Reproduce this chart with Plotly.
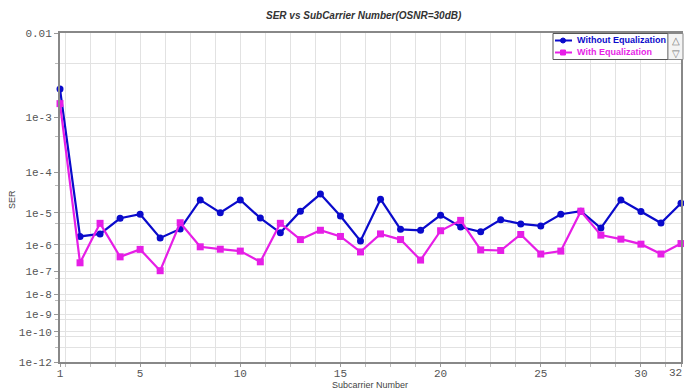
import math
import plotly.graph_objects as go

subcarriers = list(range(1, 33))
ser_without_eq = [2.5e-3, 1.9e-6, 2.3e-6, 6.9e-6, 9.0e-6, 1.7e-6, 3.3e-6, 2.2e-5,
                  1.0e-5, 2.2e-5, 7.0e-6, 2.5e-6, 1.1e-5, 3.1e-5, 8.0e-6, 1.35e-6,
                  2.3e-5, 3.2e-6, 3.0e-6, 8.5e-6, 3.8e-6, 2.7e-6, 6.3e-6, 4.7e-6,
                  4.1e-6, 9.0e-6, 1.1e-5, 3.5e-6, 2.2e-5, 1.07e-5, 5.0e-6, 1.8e-5]
ser_with_eq = [1.6e-3, 2.2e-7, 4.9e-6, 3.7e-7, 6.9e-7, 1.07e-7, 5.1e-6, 8.5e-7,
               7.0e-7, 6.0e-7, 2.4e-7, 4.9e-6, 1.5e-6, 3.0e-6, 1.9e-6, 5.6e-7,
               2.3e-6, 1.5e-6, 2.8e-7, 2.9e-6, 6.0e-6, 6.6e-7, 6.3e-7, 2.2e-6,
               4.7e-7, 6.0e-7, 1.1e-5, 2.1e-6, 1.55e-6, 1.05e-6, 4.7e-7, 1.1e-6]
series_names = ["Without Equalization", "With Equalization"]
y_tick_values = [1e-2, 1e-3, 1e-4, 1e-5, 1e-6, 1e-7, 1e-8, 1e-9, 1e-10, 1e-12]
y_tick_labels = ["0.01", "1e-3", "1e-4", "1e-5", "1e-6", "1e-7", "1e-8", "1e-9", "1e-10", "1e-12"]
y_minor_values = [5e-3, 5e-4, 5e-5, 5e-6, 5e-7, 5e-8, 5e-9, 5e-10, 5e-11, 1e-11]
x_tick_values = [1, 5, 10, 15, 20, 25, 30, 32]
x_tick_labels = ["1", "5", "10", "15", "20", "25", "30", ""]
x_last_label = "32"
x_minor_values = [1.25 * k for k in range(1, 26)]

W, H = 684, 390
ML, MR, MT, MB = 60, 3, 33, 28
PW, PH = W - ML - MR, H - MT - MB


def px(x):
    return (x - ML) / PW


def py(y):
    return 1 - (y - MT) / PH


def ser_scale(v):
    # BER-style axis: log of the exponent
    return -math.log(-math.log10(v) - 0.6)


blue = "#0a0acb"
magenta = "#e61ee6"
colors = [blue, magenta]
symbols = ["circle", "square"]

fig = go.Figure()
for name, vals, col, sym in zip(series_names, [ser_without_eq, ser_with_eq], colors, symbols):
    fig.add_trace(go.Scatter(
        x=subcarriers, y=[ser_scale(v) for v in vals],
        mode="lines+markers", name=name, showlegend=False,
        line=dict(color=col, width=2.2),
        marker=dict(symbol=sym, size=7, color=col),
        cliponaxis=False,
    ))

tickfont = dict(family="Liberation Mono, DejaVu Sans Mono, monospace", size=11, color="#555555")
sans = "Liberation Sans Narrow, Liberation Sans, Arial, sans-serif"

fig.update_layout(
    width=W, height=H,
    margin=dict(l=ML, r=MR, t=MT, b=MB),
    paper_bgcolor="white", plot_bgcolor="white",
    showlegend=False,
    xaxis=dict(
        range=[1, 32], tickmode="array", tickvals=x_tick_values,
        ticktext=x_tick_labels, tickfont=tickfont,
        showgrid=False, zeroline=False, automargin=False,
        ticklabeloverflow="allow", ticklabelstandoff=-3,
        showline=True, linecolor="#888888", linewidth=2, mirror=True,
        ticks="outside", ticklen=3, tickcolor="#999999",
        minor=dict(tickmode="array", tickvals=x_minor_values, showgrid=True,
                   gridcolor="#e2e2e2", gridwidth=1, ticks="outside",
                   ticklen=3, tickcolor="#bbbbbb"),
    ),
    yaxis=dict(
        range=[ser_scale(1e-12), ser_scale(1e-2)], tickmode="array",
        tickvals=[ser_scale(v) for v in y_tick_values], ticktext=y_tick_labels,
        tickfont=tickfont, showgrid=True, gridcolor="#e2e2e2", zeroline=False,
        automargin=False, ticklabeloverflow="allow",
        showline=True, linecolor="#888888", linewidth=2, mirror=True,
        ticks="outside", ticklen=4, tickcolor="#999999",
        minor=dict(tickmode="array", tickvals=[ser_scale(v) for v in y_minor_values],
                   showgrid=True, gridcolor="#e2e2e2", gridwidth=1,
                   ticks="outside", ticklen=3, tickcolor="#bbbbbb"),
    ),
)

# last x tick label, kept inside the page edge
fig.add_annotation(text=x_last_label, x=px(683.5), y=py(373), xref="paper", yref="paper",
                   showarrow=False, xanchor="right", yanchor="middle", font=tickfont)

# title and axis titles
fig.add_annotation(text="<b><i>SER vs SubCarrier Number(OSNR=30dB)</i></b>",
                   x=px(364), y=py(16), xref="paper", yref="paper", showarrow=False,
                   xanchor="center", yanchor="middle",
                   font=dict(family=sans, size=10, color="#333333"))
fig.add_annotation(text="Subcarrier Number", x=px(370), y=py(384.5), xref="paper", yref="paper",
                   showarrow=False, xanchor="center", yanchor="middle",
                   font=dict(family="Liberation Sans, Arial, sans-serif", size=9, color="#444444"))
fig.add_annotation(text="SER", x=px(12), y=py(200), xref="paper", yref="paper",
                   showarrow=False, xanchor="center", yanchor="middle", textangle=-90,
                   font=dict(family="Liberation Sans, Arial, sans-serif", size=9, color="#444444"))

# manual legend box
fig.add_shape(type="rect", xref="paper", yref="paper",
              x0=px(553), x1=px(668), y0=py(59.5), y1=py(33.5),
              line=dict(color="#555555", width=1), fillcolor="white", layer="above")
for i, (name, col, sym) in enumerate(zip(series_names, colors, symbols)):
    yy = 40.5 + i * 12
    fig.add_shape(type="line", xref="paper", yref="paper",
                  x0=px(555), x1=px(572), y0=py(yy), y1=py(yy),
                  line=dict(color=col, width=2), layer="above")
    shape_type = "circle" if sym == "circle" else "rect"
    fig.add_shape(type=shape_type, xref="paper", yref="paper",
                  x0=px(560.5), x1=px(565.5), y0=py(yy + 2.5), y1=py(yy - 2.5),
                  line=dict(color=col, width=1), fillcolor=col, layer="above")
    fig.add_annotation(text="<b>" + name + "</b>", x=px(575), y=py(yy), xref="paper", yref="paper",
                       showarrow=False, xanchor="left", yanchor="middle",
                       font=dict(family=sans, size=9, color=col))

# legend scroll arrows
fig.add_shape(type="rect", xref="paper", yref="paper",
              x0=px(668), x1=px(683), y0=py(59.5), y1=py(33.5),
              line=dict(color="#888888", width=1), fillcolor="#f4f4f4", layer="above")
for s, yy in (("△", 40), ("▽", 53)):
    fig.add_annotation(text=s, xref="paper", yref="paper",
                       x=px(675.5), y=py(yy), showarrow=False,
                       xanchor="center", yanchor="middle",
                       font=dict(size=10, color="#777777"))

fig.write_html("out.html", config={"displayModeBar": False},
               post_script="document.body.style.margin='0';document.body.style.padding='0';")
